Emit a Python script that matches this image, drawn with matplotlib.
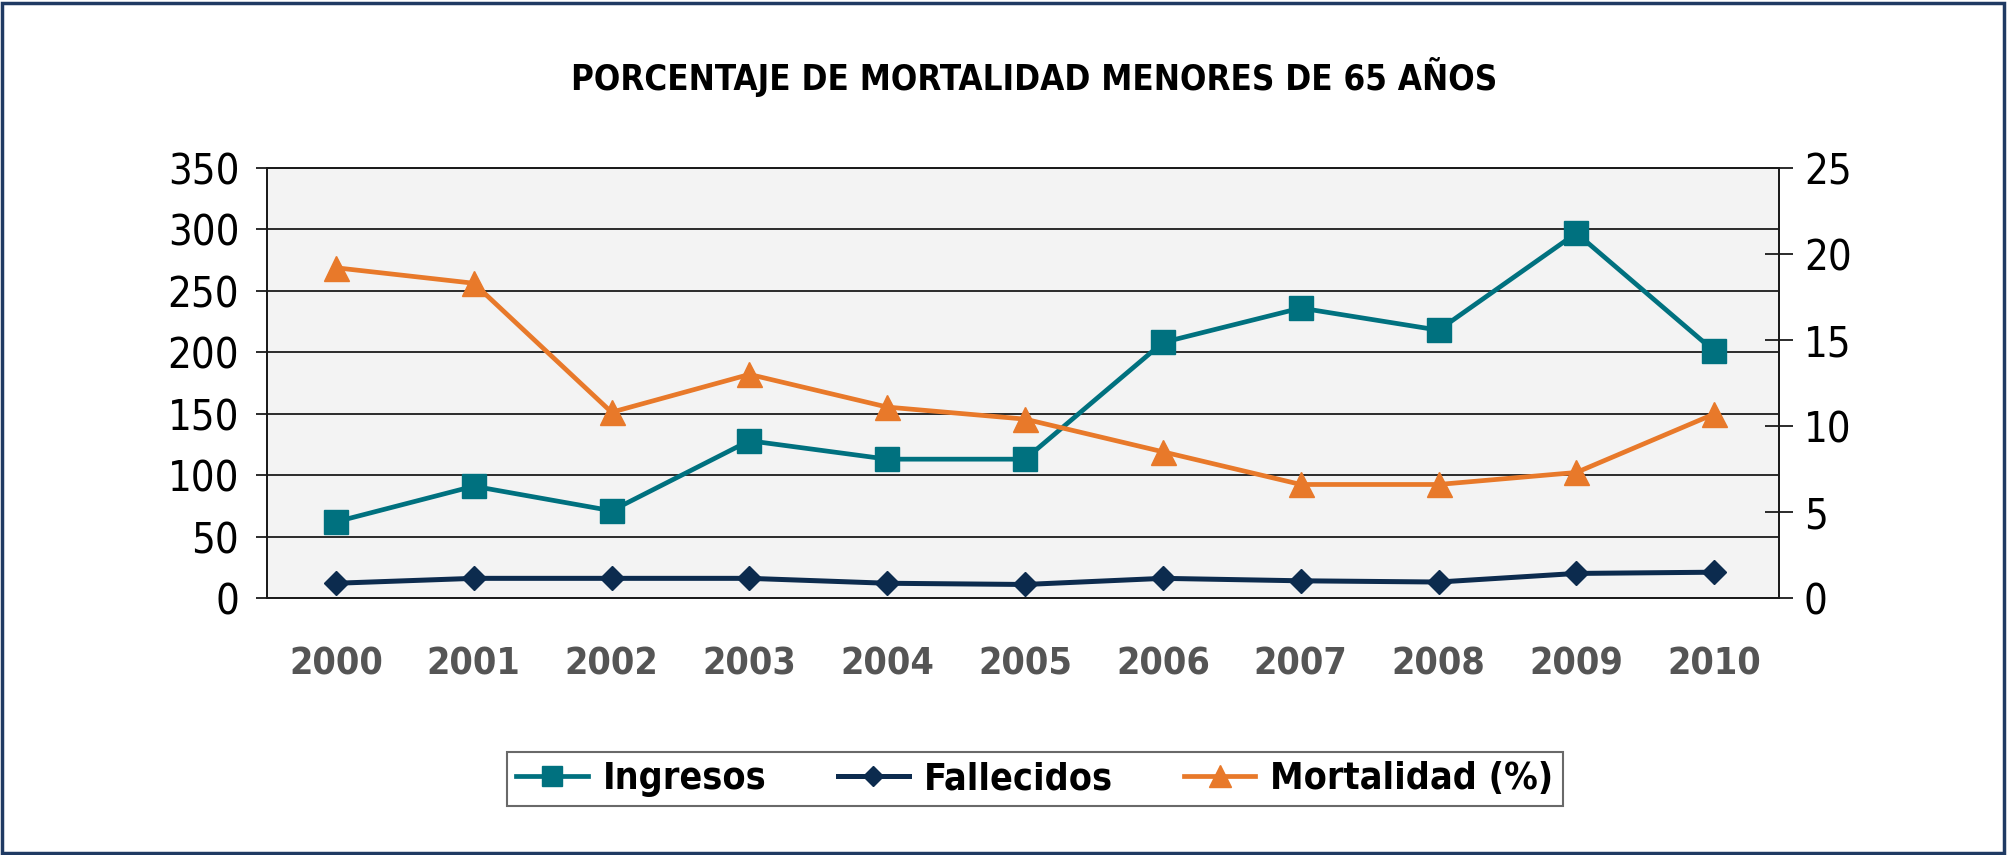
import numpy as np
import matplotlib
matplotlib.use("Agg")
import matplotlib.pyplot as plt
from matplotlib.patches import Rectangle

# datos
anios = ['2000', '2001', '2002', '2003', '2004', '2005', '2006', '2007', '2008', '2009', '2010']
ingresos = [62, 91, 71, 128, 113, 113, 208, 236, 218, 297, 201]
fallecidos = [12, 16, 16, 16, 12, 11, 16, 14, 13, 20, 21]
mortalidad = [19.2, 18.3, 10.8, 13.0, 11.1, 10.4, 8.5, 6.6, 6.6, 7.3, 10.7]

titulo = 'PORCENTAJE DE MORTALIDAD MENORES DE 65 AÑOS'
ticks_izq = [0, 50, 100, 150, 200, 250, 300, 350]
ticks_der = [0, 5, 10, 15, 20, 25]

c_ing = '#00717f'
c_fal = '#0c2b4e'
c_mor = '#e8792a'

fuente = ['Liberation Sans Narrow', 'DejaVu Sans']
plt.rcParams['font.family'] = fuente
plt.rcParams['font.stretch'] = 'condensed'

W, H = 2008, 855
fig = plt.figure(figsize=(W / 100, H / 100), dpi=100)
fig.patch.set_facecolor('white')

x0, x1 = 267, 1779
ytop, ybot = 168, 598
ax = fig.add_axes([x0 / W, 1 - ybot / H, (x1 - x0) / W, (ybot - ytop) / H])
ax.set_facecolor('#f3f3f3')
ax2 = ax.twinx()

x = np.arange(len(anios))

l1, = ax.plot(x, ingresos, color=c_ing, lw=3.4, marker='s', ms=17, label='Ingresos', zorder=4)
l2, = ax.plot(x, fallecidos, color=c_fal, lw=3.6, marker='D', ms=12, label='Fallecidos', zorder=4)
l3, = ax2.plot(x, mortalidad, color=c_mor, lw=3.4, marker='^', ms=18, label='Mortalidad (%)', zorder=4)

ax.set_xlim(-0.5, 10.47)
ax.set_ylim(0, 350)
ax2.set_ylim(0, 25)

ax.set_yticks(ticks_izq)
ax2.set_yticks(ticks_der)
ax.yaxis.grid(True, color='#1a1a1a', lw=1.3)
ax.set_axisbelow(True)

for a in (ax, ax2):
    for s in a.spines.values():
        s.set_color('#1a1a1a')
        s.set_linewidth(1.3)

ax.set_xticks(x)
ax.set_xticklabels(anios, fontsize=27, fontweight='bold', color='#555555')
ax.tick_params(axis='x', length=0, pad=35)
ax.tick_params(axis='y', length=8, width=1.3, color='#1a1a1a', labelsize=30, pad=12)
ax2.tick_params(axis='y', direction='inout', length=20, width=1.3, color='#1a1a1a',
                labelsize=30, pad=8)

fig.text(1034 / W, 1 - 77 / H, titulo, ha='center', va='center',
         fontsize=25, fontweight='bold', color='black')

leg = fig.legend(handles=[l1, l2, l3], loc='center', bbox_to_anchor=(1035 / W, 1 - 779 / H),
                 ncol=3, frameon=True, fancybox=False,
                 prop={'weight': 'bold', 'size': 27, 'family': fuente, 'stretch': 'condensed'},
                 handlelength=1.9, columnspacing=1.9, borderpad=0.25, handletextpad=0.4,
                 markerscale=0.85)
leg.get_frame().set_edgecolor('#444444')
leg.get_frame().set_linewidth(1.5)

fig.patches.append(Rectangle((0.001, 0.002), 0.997, 0.995, transform=fig.transFigure,
                             fill=False, edgecolor='#1f3a63', lw=2.5))

fig.savefig('out.png', dpi=100)
